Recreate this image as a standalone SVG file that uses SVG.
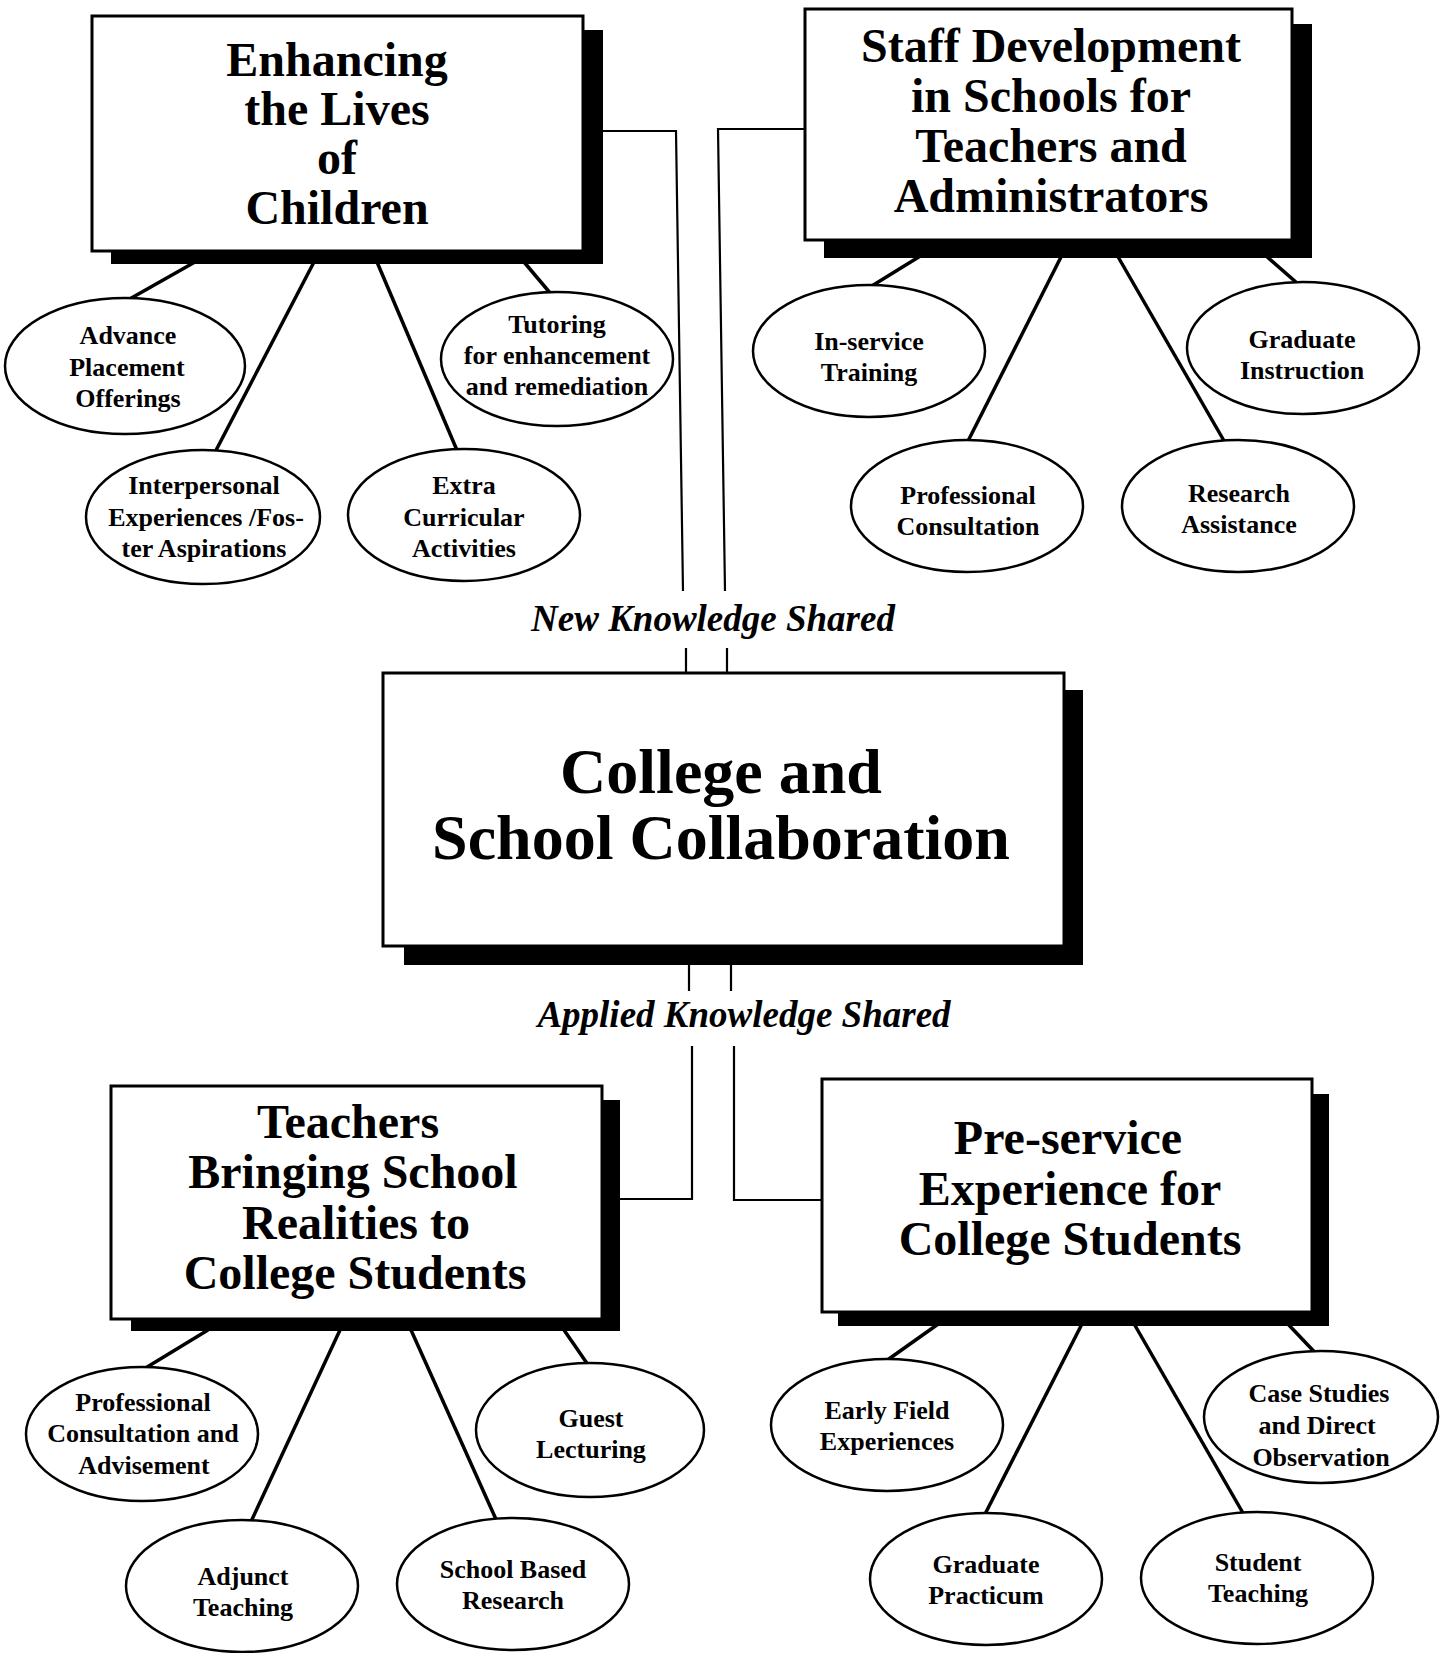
<svg xmlns="http://www.w3.org/2000/svg" width="1441" height="1653" viewBox="0 0 1441 1653">
  <style>
    .bg { fill: #ffffff; }
    .shadow { fill: #000000; }
    .box { fill: #ffffff; stroke: #000000; stroke-width: 3; }
    .oval { fill: #ffffff; stroke: #000000; stroke-width: 2.5; }
    .spoke { fill: none; stroke: #000000; stroke-width: 3.5; }
    .link { fill: none; stroke: #000000; stroke-width: 2.2; }
    .title { font-family: "Liberation Serif", "Times New Roman", serif; font-weight: bold; font-size: 48px; text-anchor: middle; fill: #000; }
    .main { font-family: "Liberation Serif", "Times New Roman", serif; font-weight: bold; font-size: 64px; text-anchor: middle; fill: #000; }
    .item { font-family: "Liberation Serif", "Times New Roman", serif; font-weight: bold; font-size: 26px; text-anchor: middle; fill: #000; }
    .flow { font-family: "Liberation Serif", "Times New Roman", serif; font-weight: bold; font-style: italic; font-size: 37px; text-anchor: middle; fill: #000; }
  </style>

  <rect class="bg" x="0" y="0" width="1441" height="1653"/>

  <!-- connectors: spokes from each box to its ovals, and the links to the centre box -->
  <g id="connectors">
    <!-- Enhancing the Lives of Children -->
    <line class="spoke" x1="195" y1="262" x2="119" y2="305"/>
    <line class="spoke" x1="314" y1="262" x2="212" y2="458"/>
    <line class="spoke" x1="377" y1="262" x2="459" y2="455"/>
    <line class="spoke" x1="524" y1="262" x2="556" y2="300"/>
    <!-- Staff Development -->
    <line class="spoke" x1="922" y1="255" x2="862" y2="292"/>
    <line class="spoke" x1="1062" y1="255" x2="966" y2="445"/>
    <line class="spoke" x1="1117" y1="255" x2="1227" y2="446"/>
    <line class="spoke" x1="1265" y1="255" x2="1305" y2="290"/>
    <!-- Teachers Bringing School Realities -->
    <line class="spoke" x1="208" y1="1330" x2="134" y2="1375"/>
    <line class="spoke" x1="340" y1="1330" x2="248" y2="1528"/>
    <line class="spoke" x1="411" y1="1330" x2="499" y2="1526"/>
    <line class="spoke" x1="564" y1="1330" x2="593" y2="1372"/>
    <!-- Pre-service Experience -->
    <line class="spoke" x1="941" y1="1322" x2="879" y2="1366"/>
    <line class="spoke" x1="1083" y1="1322" x2="982" y2="1520"/>
    <line class="spoke" x1="1133" y1="1322" x2="1247" y2="1520"/>
    <line class="spoke" x1="1286" y1="1322" x2="1324" y2="1362"/>

    <!-- knowledge links above the centre box -->
    <polyline class="link" points="600,131 676,131 683,591"/>
    <polyline class="link" points="805,129 718,129 725,591"/>
    <line class="link" x1="686" y1="648" x2="686" y2="676"/>
    <line class="link" x1="727" y1="648" x2="727" y2="676"/>
    <!-- knowledge links below the centre box -->
    <line class="link" x1="689" y1="960" x2="689" y2="991"/>
    <line class="link" x1="731" y1="960" x2="731" y2="991"/>
    <polyline class="link" points="692,1046 692,1199 617,1199"/>
    <polyline class="link" points="734,1046 734,1200 824,1200"/>

    <text class="flow" x="713" y="631">New Knowledge Shared</text>
    <text class="flow" x="744" y="1027">Applied Knowledge Shared</text>
  </g>

  <!-- top left cluster -->
  <g id="node-children">
    <rect class="shadow" x="111" y="30" width="492" height="234"/>
    <rect class="box" x="92" y="16" width="491" height="235"/>
    <text class="title" x="337" y="76">Enhancing</text>
    <text class="title" x="337" y="125">the Lives</text>
    <text class="title" x="337" y="174">of</text>
    <text class="title" x="337" y="224">Children</text>
  </g>
  <g id="node-advance-placement">
    <ellipse class="oval" cx="125" cy="366" rx="120" ry="68"/>
    <text class="item" x="128" y="344">Advance</text>
    <text class="item" x="127" y="376">Placement</text>
    <text class="item" x="128" y="407">Offerings</text>
  </g>
  <g id="node-tutoring">
    <ellipse class="oval" cx="557" cy="359" rx="116" ry="67"/>
    <text class="item" x="557" y="333">Tutoring</text>
    <text class="item" x="557" y="364">for enhancement</text>
    <text class="item" x="557" y="395">and remediation</text>
  </g>
  <g id="node-interpersonal">
    <ellipse class="oval" cx="203" cy="517" rx="117" ry="67"/>
    <text class="item" x="204" y="494">Interpersonal</text>
    <text class="item" x="206" y="526">Experiences /Fos-</text>
    <text class="item" x="204" y="557">ter Aspirations</text>
  </g>
  <g id="node-extracurricular">
    <ellipse class="oval" cx="464" cy="515" rx="116" ry="66"/>
    <text class="item" x="464" y="494">Extra</text>
    <text class="item" x="464" y="526">Curricular</text>
    <text class="item" x="464" y="557">Activities</text>
  </g>

  <!-- top right cluster -->
  <g id="node-staff-development">
    <rect class="shadow" x="824" y="24" width="488" height="234"/>
    <rect class="box" x="805" y="9" width="487" height="231"/>
    <text class="title" x="1051" y="62">Staff Development</text>
    <text class="title" x="1051" y="112">in Schools for</text>
    <text class="title" x="1051" y="162">Teachers and</text>
    <text class="title" x="1051" y="212">Administrators</text>
  </g>
  <g id="node-inservice">
    <ellipse class="oval" cx="869" cy="351" rx="116" ry="66"/>
    <text class="item" x="869" y="350">In-service</text>
    <text class="item" x="869" y="381">Training</text>
  </g>
  <g id="node-graduate-instruction">
    <ellipse class="oval" cx="1303" cy="348" rx="116" ry="66"/>
    <text class="item" x="1302" y="348">Graduate</text>
    <text class="item" x="1302" y="379">Instruction</text>
  </g>
  <g id="node-professional-consultation">
    <ellipse class="oval" cx="967" cy="506" rx="116" ry="66"/>
    <text class="item" x="968" y="504">Professional</text>
    <text class="item" x="968" y="535">Consultation</text>
  </g>
  <g id="node-research-assistance">
    <ellipse class="oval" cx="1238" cy="506" rx="116" ry="66"/>
    <text class="item" x="1239" y="502">Research</text>
    <text class="item" x="1239" y="533">Assistance</text>
  </g>

  <!-- centre -->
  <g id="node-collaboration">
    <rect class="shadow" x="404" y="690" width="679" height="275"/>
    <rect class="box" x="383" y="673" width="681" height="273"/>
    <text class="main" x="721" y="793">College and</text>
    <text class="main" x="721" y="859">School Collaboration</text>
  </g>

  <!-- bottom left cluster -->
  <g id="node-teachers-bringing">
    <rect class="shadow" x="131" y="1100" width="489" height="231"/>
    <rect class="box" x="111" y="1086" width="491" height="233"/>
    <text class="title" x="348" y="1138">Teachers</text>
    <text class="title" x="353" y="1188">Bringing School</text>
    <text class="title" x="356" y="1239">Realities to</text>
    <text class="title" x="355" y="1289">College Students</text>
  </g>
  <g id="node-advisement">
    <ellipse class="oval" cx="142" cy="1434" rx="116" ry="67"/>
    <text class="item" x="143" y="1411">Professional</text>
    <text class="item" x="143" y="1442">Consultation and</text>
    <text class="item" x="144" y="1474">Advisement</text>
  </g>
  <g id="node-guest-lecturing">
    <ellipse class="oval" cx="590" cy="1430" rx="114" ry="67"/>
    <text class="item" x="591" y="1427">Guest</text>
    <text class="item" x="591" y="1458">Lecturing</text>
  </g>
  <g id="node-adjunct-teaching">
    <ellipse class="oval" cx="242" cy="1586" rx="116" ry="66"/>
    <text class="item" x="243" y="1585">Adjunct</text>
    <text class="item" x="243" y="1616">Teaching</text>
  </g>
  <g id="node-school-research">
    <ellipse class="oval" cx="513" cy="1584" rx="116" ry="66"/>
    <text class="item" x="513" y="1578">School Based</text>
    <text class="item" x="513" y="1609">Research</text>
  </g>

  <!-- bottom right cluster -->
  <g id="node-preservice">
    <rect class="shadow" x="838" y="1094" width="491" height="232"/>
    <rect class="box" x="822" y="1079" width="490" height="233"/>
    <text class="title" x="1068" y="1154">Pre-service</text>
    <text class="title" x="1070" y="1205">Experience for</text>
    <text class="title" x="1070" y="1255">College Students</text>
  </g>
  <g id="node-early-field">
    <ellipse class="oval" cx="887" cy="1425" rx="116" ry="66"/>
    <text class="item" x="887" y="1419">Early Field</text>
    <text class="item" x="887" y="1450">Experiences</text>
  </g>
  <g id="node-case-studies">
    <ellipse class="oval" cx="1321" cy="1417" rx="117" ry="66"/>
    <text class="item" x="1319" y="1402">Case Studies</text>
    <text class="item" x="1317" y="1434">and Direct</text>
    <text class="item" x="1321" y="1466">Observation</text>
  </g>
  <g id="node-graduate-practicum">
    <ellipse class="oval" cx="986" cy="1579" rx="116" ry="66"/>
    <text class="item" x="986" y="1573">Graduate</text>
    <text class="item" x="986" y="1604">Practicum</text>
  </g>
  <g id="node-student-teaching">
    <ellipse class="oval" cx="1257" cy="1578" rx="116" ry="66"/>
    <text class="item" x="1258" y="1571">Student</text>
    <text class="item" x="1258" y="1602">Teaching</text>
  </g>
</svg>
